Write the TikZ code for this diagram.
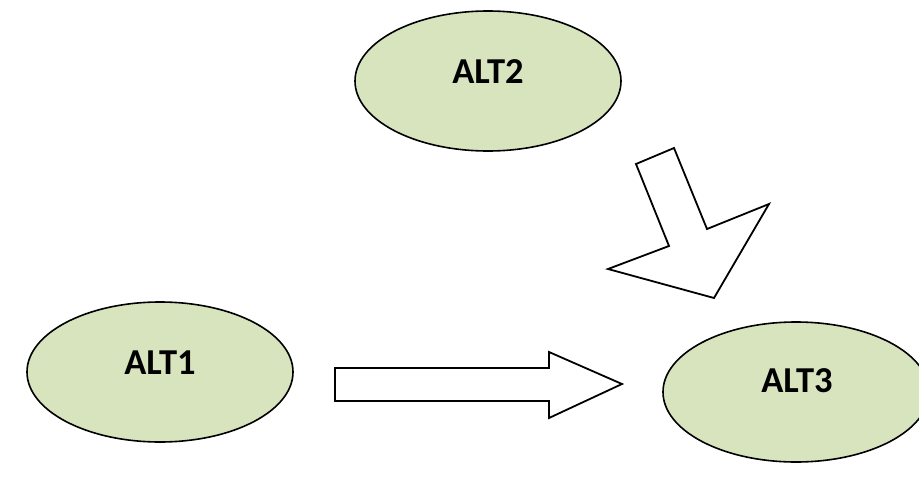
\documentclass[tikz,border=0pt]{standalone}
\usepackage{fontspec}
\setmainfont{Carlito}
\usetikzlibrary{shapes.geometric}
\definecolor{altfill}{HTML}{D7E4BD}
\tikzset{
  alt/.style={ellipse, draw=black, line width=1.6pt, fill=altfill,
    minimum width=266pt, minimum height=140pt, inner sep=0pt},
  altlabel/.style={font=\bfseries\fontsize{36.5}{36.5}\selectfont},
  blockarrow/.style={draw=black, line width=1.8pt, fill=white, line join=miter}
}
\begin{document}
\begin{tikzpicture}[x=1pt, y=-1pt]
  \useasboundingbox[fill=white] (0,0) rectangle (919,482);
  % the three alternatives
  \node[alt] (alt2) at (488,81) {};
  \node[alt] (alt1) at (160,372) {};
  \node[alt] (alt3) at (796,392) {};
  \node[altlabel] (t2) at (488,72) {ALT2};
  \node[altlabel] (t1) at (160,363) {ALT1};
  \node[altlabel] (t3) at (797,381) {ALT3};
  % block arrow from ALT1 towards ALT3
  \draw[blockarrow] (335,368) -- (549,368) -- (549,352) -- (622,384)
    -- (549,418) -- (549,401) -- (335,401) -- cycle;
  % block arrow from ALT2 down towards ALT3
  \draw[blockarrow] (636,164) -- (674,148) -- (707,229) -- (769,204)
    -- (714,298) -- (608,269) -- (669,246) -- cycle;
\end{tikzpicture}
\end{document}
